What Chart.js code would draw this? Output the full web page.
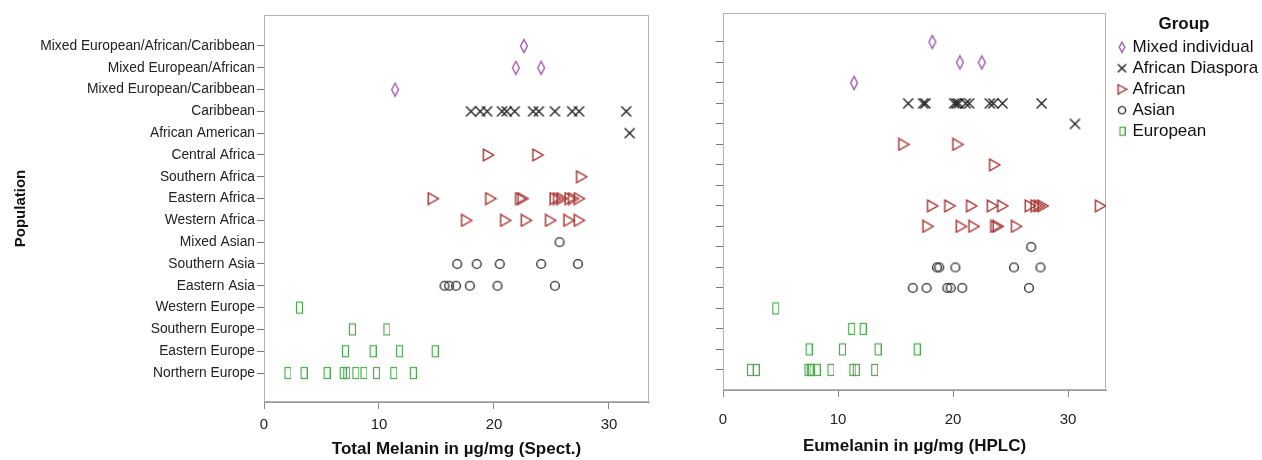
<!DOCTYPE html>
<html><head><meta charset="utf-8">
<script src="https://cdn.jsdelivr.net/npm/chart.js@4.4.1/dist/chart.umd.min.js"></script>
<style>
html,body{margin:0;padding:0;background:#fff;width:1262px;height:460px;overflow:hidden;}
#c1{position:absolute;left:0;top:0;}
#c2{position:absolute;left:660px;top:0;}
</style></head><body>
<canvas id="c1" width="660" height="460"></canvas>
<canvas id="c2" width="602" height="460"></canvas>
<script>
// ---------- data ----------
const populations = [
  'Mixed European/African/Caribbean','Mixed European/African','Mixed European/Caribbean',
  'Caribbean','African American','Central Africa','Southern Africa','Eastern Africa',
  'Western Africa','Mixed Asian','Southern Asia','Eastern Asia','Western Europe',
  'Southern Europe','Eastern Europe','Northern Europe'
];
const populationGroup = [
  'Mixed individual','Mixed individual','Mixed individual',
  'African Diaspora','African Diaspora','African','African','African',
  'African','Asian','Asian','Asian','European',
  'European','European','European'
];
const groups = ['Mixed individual','African Diaspora','African','Asian','European'];

// Total melanin (µg/mg, spectrophotometric), one list per population (same order)
const totalMelanin = [
  [22.6],
  [21.9, 24.1],
  [11.4],
  [18.0, 18.8, 19.4, 20.7, 21.1, 21.8, 23.4, 23.9, 25.3, 26.8, 27.4, 31.5],
  [31.8],
  [19.5, 23.8],
  [27.6],
  [14.7, 19.7, 22.3, 22.5, 25.3, 25.6, 25.9, 26.6, 26.9, 27.4],
  [17.6, 21.0, 22.8, 24.9, 26.5, 27.4],
  [25.7],
  [16.8, 18.5, 20.5, 24.1, 27.3],
  [15.7, 16.1, 16.7, 17.9, 20.3, 25.3],
  [3.0],
  [7.6, 10.6],
  [7.0, 9.4, 11.7, 14.8],
  [2.0, 3.4, 5.4, 6.8, 7.1, 7.9, 8.6, 9.7, 11.2, 12.9]
];
// Eumelanin (µg/mg, HPLC)
const eumelanin = [
  [18.2],
  [20.6, 22.5],
  [11.4],
  [16.1, 17.4, 17.6, 20.1, 20.3, 20.5, 21.1, 21.4, 23.2, 23.5, 24.3, 27.7],
  [30.6],
  [15.7, 20.4],
  [23.6],
  [18.2, 19.7, 21.6, 23.4, 24.3, 26.7, 27.2, 27.5, 27.8, 32.8],
  [17.8, 20.7, 21.8, 23.7, 23.9, 25.5],
  [26.8],
  [18.6, 18.8, 20.2, 25.3, 27.6],
  [16.5, 17.7, 19.5, 19.8, 20.8, 26.6],
  [4.5],
  [11.1, 12.1],
  [7.4, 10.3, 13.4, 16.8],
  [2.3, 2.8, 7.3, 7.5, 7.6, 8.1, 9.3, 11.2, 11.5, 13.1]
];
// row order of the right panel (it has one empty row)
const eumelaninRows = [
  'Mixed European/African/Caribbean','Mixed European/African','Mixed European/Caribbean',
  'Caribbean','African American','Central Africa','Southern Africa','',
  'Eastern Africa','Western Africa','Mixed Asian','Southern Asia','Eastern Asia',
  'Western Europe','Southern Europe','Eastern Europe','Northern Europe'
];
const xTicks = [0, 10, 20, 30];

// ---------- styling ----------
const FAM = "'Liberation Sans', Arial, Helvetica, sans-serif";
const groupColors = ['#9C58AE', '#1e1e1e', '#A8322F', '#333333', '#4CAA4E'];

function makeCanvas(w, h, draw) {
  const c = document.createElement('canvas');
  c.width = w; c.height = h;
  const g = c.getContext('2d');
  draw(g);
  return c;
}
// dx shifts the drawn mark right of the image centre (used for the legend)
function markerSet(s, dx) {
  return [
    makeCanvas(Math.round(10*s)+2*dx, Math.round(16*s), g => { // diamond
      const cx = Math.round(10*s)/2 + 2*dx, h = Math.round(16*s);
      g.strokeStyle = groupColors[0]; g.lineWidth = 1.4;
      g.beginPath(); g.moveTo(cx, 1.5); g.lineTo(cx + 3.4*s, h/2); g.lineTo(cx, h - 1.5); g.lineTo(cx - 3.4*s, h/2); g.closePath(); g.stroke();
    }),
    makeCanvas(Math.round(13*s)+2*dx, Math.round(13*s), g => { // x
      const w = Math.round(13*s), cx = w/2 + 2*dx, r = 5*s;
      g.strokeStyle = groupColors[1]; g.lineWidth = 1.4;
      g.beginPath(); g.moveTo(cx - r, w/2 - r); g.lineTo(cx + r, w/2 + r); g.moveTo(cx + r, w/2 - r); g.lineTo(cx - r, w/2 + r); g.stroke();
    }),
    makeCanvas(Math.round(14*s)+2*dx, Math.round(14*s), g => { // right triangle
      const w = Math.round(14*s), cx = w/2 + 2*dx;
      g.strokeStyle = groupColors[2]; g.lineWidth = 1.4;
      g.beginPath(); g.moveTo(cx - 4.8*s, w/2 - 5.8*s); g.lineTo(cx + 5.4*s, w/2); g.lineTo(cx - 4.8*s, w/2 + 5.8*s); g.closePath(); g.stroke();
    }),
    makeCanvas(Math.round(12*s)+2*dx, Math.round(12*s), g => { // circle
      const w = Math.round(12*s), cx = w/2 + 2*dx;
      g.strokeStyle = groupColors[3]; g.lineWidth = 1.4;
      g.beginPath(); g.arc(cx, w/2, 4.4*s, 0, Math.PI*2); g.stroke();
    }),
    makeCanvas(Math.round(9*s)+2*dx, Math.round(14*s), g => { // tall rectangle
      const w = Math.round(9*s), h = Math.round(14*s), cx = w/2 + 2*dx;
      g.strokeStyle = groupColors[4]; g.lineWidth = 1.2;
      g.strokeRect(Math.round(cx - 3*s) + 0.5, 1.5, Math.round(6*s), h - 3);
    })
  ];
}
const plotMarkers = markerSet(1, 0);
const legendMarkers = markerSet(0.82, 5);

function buildDatasets(values, rowOf) {
  return groups.map((g, gi) => {
    const data = [];
    populations.forEach((p, pi) => {
      if (populationGroup[pi] !== g) return;
      values[pi].forEach(v => data.push({x: v, y: rowOf(pi)}));
    });
    return { label: g, data, pointStyle: plotMarkers[gi], pointRadius: 4, pointHoverRadius: 4, showLine: false };
  });
}

const framePlugin = {
  id: 'frame',
  beforeDatasetsDraw(chart) {
    const {ctx, chartArea: a} = chart;
    ctx.save();
    ctx.strokeStyle = '#b4b4b4'; ctx.lineWidth = 1;
    ctx.strokeRect(Math.round(a.left) + 0.5, Math.round(a.top) + 0.5, Math.round(a.right - a.left) - 1, Math.round(a.bottom - a.top) - 1);
    ctx.restore();
  }
};

function xScale(max, titleText, height, tickPad, titleBottom) {
  return {
    type: 'linear', min: 0, max: max,
    afterBuildTicks: s => { s.ticks = xTicks.map(v => ({value: v})); },
    afterFit: s => { s.height = height; },
    ticks: { autoSkip: false, maxRotation: 0, padding: tickPad, color: '#222', font: {family: FAM, size: 15} },
    grid: { drawOnChartArea: false, drawTicks: true, tickLength: 7, color: '#888' },
    border: { display: true, color: '#9a9a9a' },
    title: { display: true, text: titleText, color: '#111', font: {family: FAM, size: 17, weight: 'bold'}, padding: {top: 0, bottom: titleBottom} }
  };
}

const nLeft = populations.length;
new Chart(document.getElementById('c1'), {
  type: 'scatter',
  data: { datasets: buildDatasets(totalMelanin, pi => nLeft - 1 - pi) },
  options: {
    responsive: false, animation: false, events: [],
    layout: { padding: {top: 15, right: 11, left: 0, bottom: 0} },
    plugins: { legend: {display: false}, tooltip: {enabled: false} },
    scales: {
      x: xScale(33.48, 'Total Melanin in µg/mg (Spect.)', 58, 7, 0),
      y: {
        type: 'linear', min: -1.33, max: 16.42,
        afterBuildTicks: s => { s.ticks = populations.map((_, i) => ({value: i})); },
        afterFit: s => { s.width = 264; },
        ticks: { autoSkip: false, padding: 2, color: '#222', font: {family: FAM, size: 13.8},
                 callback: v => populations[nLeft - 1 - v] },
        grid: { drawOnChartArea: false, drawTicks: true, tickLength: 7, color: '#777' },
        border: { display: true, color: '#9a9a9a' },
        title: { display: true, text: 'Population', color: '#111', font: {family: FAM, size: 15, weight: 'bold'}, padding: {top: 12, bottom: 0} }
      }
    }
  },
  plugins: [framePlugin]
});

const nRight = eumelaninRows.length;
new Chart(document.getElementById('c2'), {
  type: 'scatter',
  data: { datasets: buildDatasets(eumelanin, pi => nRight - 1 - eumelaninRows.indexOf(populations[pi])) },
  options: {
    responsive: false, animation: false, events: [],
    layout: { padding: {top: 13, right: 0, left: 0, bottom: 0} },
    plugins: {
      tooltip: {enabled: false},
      legend: {
        display: true, position: 'right', align: 'start', maxWidth: 156,
        title: { display: true, text: 'Group', color: '#111', font: {family: FAM, size: 17, weight: 'bold', lineHeight: 1.1}, padding: {top: 3, bottom: 0} },
        labels: {
          usePointStyle: true, boxWidth: 14, boxHeight: 14, padding: 4, color: '#111',
          font: {family: FAM, size: 17},
          generateLabels: () => groups.map((g, i) => ({
            text: g, pointStyle: legendMarkers[i], fillStyle: 'rgba(0,0,0,0)', strokeStyle: 'rgba(0,0,0,0)',
            lineWidth: 0, hidden: false, datasetIndex: i, fontColor: '#111'
          }))
        }
      }
    },
    scales: {
      x: xScale(33.3, 'Eumelanin in µg/mg (HPLC)', 70, 14, 3),
      y: {
        type: 'linear', min: -0.98, max: 17.41,
        afterBuildTicks: s => { s.ticks = eumelaninRows.map((_, i) => ({value: i})); },
        afterFit: s => { s.width = 63; },
        ticks: { autoSkip: false, padding: 0, callback: () => '' },
        grid: { drawOnChartArea: false, drawTicks: true, tickLength: 7, color: '#777' },
        border: { display: true, color: '#9a9a9a' }
      }
    }
  },
  plugins: [framePlugin]
});
</script>
</body></html>
